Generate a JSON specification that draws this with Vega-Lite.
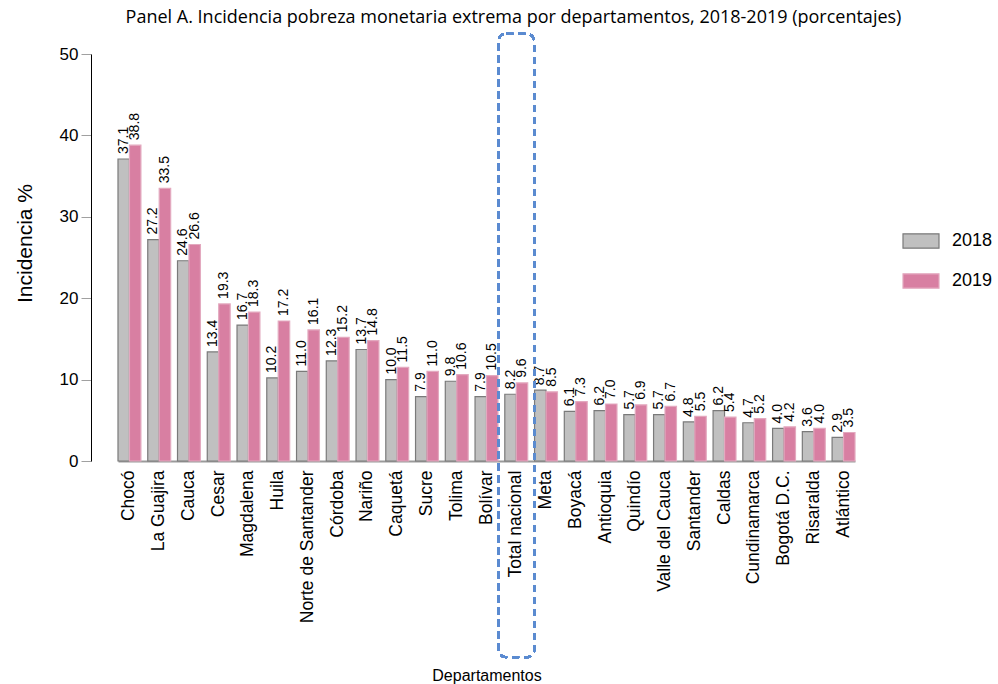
{
  "$schema": "https://vega.github.io/schema/vega-lite/v6.json",
  "width": 737,
  "height": 407,
  "autosize": {"type": "none"},
  "padding": {"left": 118, "top": 54, "right": 143, "bottom": 223},
  "background": "white",
  "config": {
    "view": {"stroke": null},
    "font": "Liberation Sans",
    "axis": {"grid": false}
  },
  "title": {
    "text": "Panel A. Incidencia pobreza monetaria extrema por departamentos, 2018-2019 (porcentajes)",
    "font": "Open Sans",
    "fontSize": 18,
    "fontWeight": "normal",
    "color": "#000000",
    "anchor": "middle",
    "dx": 27,
    "offset": 6,
    "frame": "group"
  },
  "data": {
    "values": [
      {"dep": "Chocó", "year": "2018", "v": 37.1}, {"dep": "Chocó", "year": "2019", "v": 38.8},
      {"dep": "La Guajira", "year": "2018", "v": 27.2}, {"dep": "La Guajira", "year": "2019", "v": 33.5},
      {"dep": "Cauca", "year": "2018", "v": 24.6}, {"dep": "Cauca", "year": "2019", "v": 26.6},
      {"dep": "Cesar", "year": "2018", "v": 13.4}, {"dep": "Cesar", "year": "2019", "v": 19.3},
      {"dep": "Magdalena", "year": "2018", "v": 16.7}, {"dep": "Magdalena", "year": "2019", "v": 18.3},
      {"dep": "Huila", "year": "2018", "v": 10.2}, {"dep": "Huila", "year": "2019", "v": 17.2},
      {"dep": "Norte de Santander", "year": "2018", "v": 11.0}, {"dep": "Norte de Santander", "year": "2019", "v": 16.1},
      {"dep": "Córdoba", "year": "2018", "v": 12.3}, {"dep": "Córdoba", "year": "2019", "v": 15.2},
      {"dep": "Nariño", "year": "2018", "v": 13.7}, {"dep": "Nariño", "year": "2019", "v": 14.8},
      {"dep": "Caquetá", "year": "2018", "v": 10.0}, {"dep": "Caquetá", "year": "2019", "v": 11.5},
      {"dep": "Sucre", "year": "2018", "v": 7.9}, {"dep": "Sucre", "year": "2019", "v": 11.0},
      {"dep": "Tolima", "year": "2018", "v": 9.8}, {"dep": "Tolima", "year": "2019", "v": 10.6},
      {"dep": "Bolívar", "year": "2018", "v": 7.9}, {"dep": "Bolívar", "year": "2019", "v": 10.5},
      {"dep": "Total nacional", "year": "2018", "v": 8.2}, {"dep": "Total nacional", "year": "2019", "v": 9.6},
      {"dep": "Meta", "year": "2018", "v": 8.7}, {"dep": "Meta", "year": "2019", "v": 8.5},
      {"dep": "Boyacá", "year": "2018", "v": 6.1}, {"dep": "Boyacá", "year": "2019", "v": 7.3},
      {"dep": "Antioquia", "year": "2018", "v": 6.2}, {"dep": "Antioquia", "year": "2019", "v": 7.0},
      {"dep": "Quindío", "year": "2018", "v": 5.7}, {"dep": "Quindío", "year": "2019", "v": 6.9},
      {"dep": "Valle del Cauca", "year": "2018", "v": 5.7}, {"dep": "Valle del Cauca", "year": "2019", "v": 6.7},
      {"dep": "Santander", "year": "2018", "v": 4.8}, {"dep": "Santander", "year": "2019", "v": 5.5},
      {"dep": "Caldas", "year": "2018", "v": 6.2}, {"dep": "Caldas", "year": "2019", "v": 5.4},
      {"dep": "Cundinamarca", "year": "2018", "v": 4.7}, {"dep": "Cundinamarca", "year": "2019", "v": 5.2},
      {"dep": "Bogotá D.C.", "year": "2018", "v": 4.0}, {"dep": "Bogotá D.C.", "year": "2019", "v": 4.2},
      {"dep": "Risaralda", "year": "2018", "v": 3.6}, {"dep": "Risaralda", "year": "2019", "v": 4.0},
      {"dep": "Atlántico", "year": "2018", "v": 2.9}, {"dep": "Atlántico", "year": "2019", "v": 3.5}
    ]
  },
  "encoding": {
    "x": {
      "field": "dep",
      "type": "nominal",
      "sort": null,
      "scale": {"paddingInner": 0.23, "paddingOuter": 0},
      "axis": {
        "title": "Departamentos",
        "titleFont": "Liberation Sans",
        "titleFontSize": 16,
        "titleFontWeight": "normal",
        "titleColor": "#000000",
        "titleBaseline": "middle",
        "titleY": 214,
        "labelAngle": 270,
        "labelAlign": "right",
        "labelBaseline": "middle",
        "labelFontSize": 17.5,
        "labelColor": "#000000",
        "labelPadding": 9,
        "labelLimit": 300,
        "ticks": false,
        "domainColor": "#9a9a9a",
        "domainWidth": 2
      }
    }
  },
  "layer": [
    {
      "mark": {"type": "bar", "strokeWidth": 1.2},
      "encoding": {
        "xOffset": {"field": "year", "type": "nominal", "scale": {"paddingInner": 0, "paddingOuter": 0}},
        "y": {
          "field": "v",
          "type": "quantitative",
          "scale": {"domain": [0, 50], "nice": false},
          "axis": {
            "title": "Incidencia %",
            "titleFont": "Liberation Sans",
            "titleFontSize": 21,
            "titleFontWeight": "normal",
            "titleColor": "#000000",
            "titleAngle": 270,
            "titleBaseline": "middle",
            "titleAlign": "center",
            "titleX": -66,
            "titleY": 189,
            "values": [0, 10, 20, 30, 40, 50],
            "offset": 27,
            "tickSize": 10,
            "tickColor": "#a0a0a0",
            "domainColor": "#000000",
            "labelFontSize": 17,
            "labelColor": "#000000",
            "labelPadding": 3
          }
        },
        "fill": {
          "field": "year",
          "type": "nominal",
          "scale": {"domain": ["2018", "2019"], "range": ["#c0c0c0", "#d87fa2"]},
          "legend": {
            "title": null,
            "orient": "none",
            "legendX": 784,
            "legendY": 168,
            "symbolType": "M-1,-0.4H1V0.4H-1Z",
            "symbolSize": 1296,
            "symbolStrokeWidth": 1.2,
            "labelFontSize": 18,
            "labelColor": "#000000",
            "labelOffset": 12,
            "rowPadding": 11,
            "symbolOpacity": 1
          }
        },
        "stroke": {
          "field": "year",
          "type": "nominal",
          "scale": {"domain": ["2018", "2019"], "range": ["#7a7a7a", "#e3a9bf"]}
        }
      }
    },
    {
      "mark": {"type": "text", "angle": 270, "align": "left", "baseline": "middle", "dx": 5, "fontSize": 14, "color": "#000000"},
      "encoding": {
        "xOffset": {"field": "year", "type": "nominal"},
        "y": {"field": "v", "type": "quantitative"},
        "text": {"field": "v", "type": "quantitative", "format": ".1f"}
      }
    },
    {
      "mark": {"type": "bar", "fill": null, "fillOpacity": 0, "stroke": "#5b8bd0", "strokeWidth": 2, "strokeDash": [7, 5], "cornerRadius": 8, "clip": false, "width": {"band": 1.58}},
      "encoding": {
        "x": {"datum": "Total nacional"},
        "y": {"datum": 52.5},
        "y2": {"datum": -24.1}
      }
    }
  ]
}
